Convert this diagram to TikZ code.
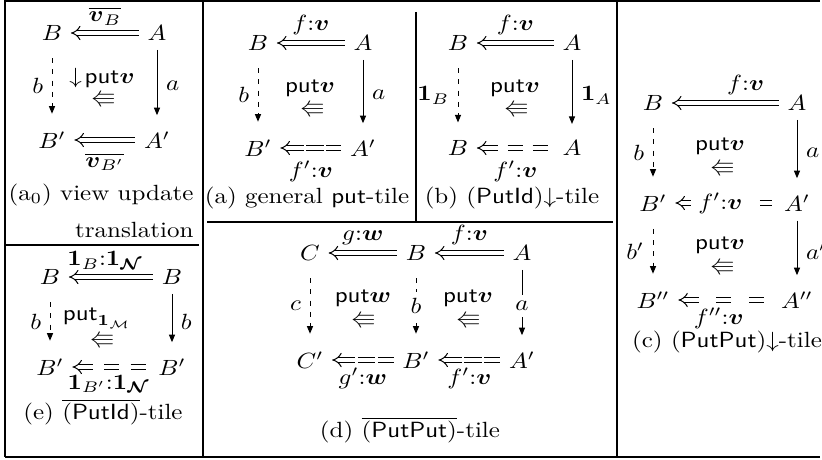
\documentclass[tikz,border=0pt]{standalone}
\usepackage{amsmath,amssymb}
\usepackage{tikz}
\usetikzlibrary{arrows.meta,positioning}
\tikzset{
  obj/.style={inner sep=.333em},
  lbl/.style={inner sep=3.4pt},
  cell/.style={inner sep=0pt},
  onarrow/.style={fill=white,inner sep=2.8pt},
  imp/.style={{Implies}-,double,double distance=1.6pt,line width=.4pt},
  impdash/.style={imp,dash pattern=#1},
  upd/.style={-{Triangle[length=3pt,width=2.4pt]},line width=.4pt,shorten <=.6pt,shorten >=3.5pt},
  prop/.style={upd,dash pattern=on 2pt off 2.5pt,shorten <=3.9pt,shorten >=4.1pt},
  rulel/.style={line width=.45pt}
}
\begin{document}
\begin{tikzpicture}[x=.4pt,y=-.4pt,every node/.style={yscale=.88}]
\useasboundingbox (0,0) rectangle (822,460);
\draw[rulel] (5,1) -- (820,1);
\draw[rulel] (5,457) -- (820,457);
\draw[rulel] (5,0) -- (5,457);
\draw[rulel] (203,0) -- (203,457);
\draw[rulel] (617,0) -- (617,457);
\draw[rulel] (5,245) -- (199,245);
\draw[rulel] (207,222) -- (613,222);
\draw[rulel] (416,12) -- (416,222);

\node[obj] (zB) at (52,33) {$B$};
\node[obj] (zA) at (157,33) {$A$};
\node[obj] (zBp) at (52,140) {$B'$};
\node[obj] (zAp) at (157,140) {$A'$};
\draw[imp] (zB) -- node[lbl,above] (zv) {$\overline{\boldsymbol{v}_B}$} (zA);
\draw[imp] (zBp) -- node[lbl,below=2pt] (zvp) {$\overline{\boldsymbol{v}_{B'}}$} (zAp);
\draw[prop] (zB) -- node[lbl,left] (zb) {$b$} (zBp);
\draw[upd] (zA) -- node[lbl,right] (za) {$a$} (zAp);
\node[cell] (zput) at (102,78) {$\downarrow\!\mathsf{put}\boldsymbol{v}$};
\node[cell] (zcell) at (103,99) {$\Lleftarrow$};
\node[align=right] (zcap) at (101,211) {(a$_0$) view update\\[5pt]translation};

\node[obj] (aB) at (258,43) {$B$};
\node[obj] (aA) at (363,43) {$A$};
\node[obj] (aBp) at (258,148) {$B'$};
\node[obj] (aAp) at (363,148) {$A'$};
\draw[imp] (aB) -- node[lbl,above] (af) {$f{:}\boldsymbol{v}$} (aA);
\draw[impdash={on 7pt off 1pt}] (aBp) -- node[lbl,below=2pt] (afp) {$f'{:}\boldsymbol{v}$} (aAp);
\draw[prop] (aB) -- node[lbl,left] (ab) {$b$} (aBp);
\draw[upd] (aA) -- node[lbl,right] (aa) {$a$} (aAp);
\node[cell] (aput) at (310,88) {$\mathsf{put}\boldsymbol{v}$};
\node[cell] (acell) at (312,109) {$\Lleftarrow$};
\node (acap) at (307,198) {(a) general \textsf{put}-tile};

\node[obj] (bB) at (458,43) {$B$};
\node[obj] (bA) at (572,43) {$A$};
\node[obj] (bBp) at (458,148) {$B$};
\node[obj] (bAp) at (572,148) {$A$};
\draw[imp] (bB) -- node[lbl,above] (bf) {$f{:}\boldsymbol{v}$} (bA);
\draw[impdash={on 6pt off 4pt}] (bBp) -- node[lbl,below=2pt] (bfp) {$f'{:}\boldsymbol{v}$} (bAp);
\draw[prop] (bB) -- node[lbl,left] (bb) {$\mathbf{1}_B$} (bBp);
\draw[upd] (bA) -- node[lbl,right] (ba) {$\mathbf{1}_A$} (bAp);
\node[cell] (bput) at (515,88) {$\mathsf{put}\boldsymbol{v}$};
\node[cell] (bcell) at (516,109) {$\Lleftarrow$};
\node (bcap) at (512,198) {(b) (\textsf{PutId})$\downarrow$-tile};

\node[obj] (cB) at (653,103) {$B$};
\node[obj] (cA) at (797,103) {$A$};
\node[obj] (cBp) at (653,203) {$B'$};
\node[obj] (cAp) at (797,203) {$A'$};
\node[obj] (cBpp) at (653,300) {$B''$};
\node[obj] (cApp) at (797,300) {$A''$};
\draw[imp] (cB) -- node[lbl,above,pos=.69] (cf) {$f{:}\boldsymbol{v}$} (cA);
\draw[impdash={on 5pt off 5.5pt}] (cBp) -- node[onarrow,pos=.45] (cfp) {$f'{:}\boldsymbol{v}$} (cAp);
\draw[impdash={on 6pt off 7pt}] (cBpp) -- node[lbl,below,pos=.43] (cfpp) {$f''{:}\boldsymbol{v}$} (cApp);
\draw[prop] (cB) -- node[lbl,left] (cb) {$b$} (cBp);
\draw[upd] (cA) -- node[lbl,right] (ca) {$a$} (cAp);
\draw[prop] (cBp) -- node[lbl,left] (cbp) {$b'$} (cBpp);
\draw[upd] (cAp) -- node[lbl,right] (cap) {$a'$} (cApp);
\node[cell] (cput) at (720,146) {$\mathsf{put}\boldsymbol{v}$};
\node[cell] (ccell) at (722,168) {$\Lleftarrow$};
\node[cell] (cputp) at (720,245) {$\mathsf{put}\boldsymbol{v}$};
\node[cell] (ccellp) at (722,267) {$\Lleftarrow$};
\node (ccap) at (727,342) {(c) (\textsf{PutPut})$\downarrow$-tile};

\node[obj] (dC) at (310,253) {$C$};
\node[obj] (dB) at (416,253) {$B$};
\node[obj] (dA) at (522,253) {$A$};
\node[obj] (dCp) at (310,360) {$C'$};
\node[obj] (dBp) at (416,360) {$B'$};
\node[obj] (dAp) at (522,360) {$A'$};
\draw[imp] (dC) -- node[lbl,above] (dg) {$g{:}\boldsymbol{w}$} (dB);
\draw[imp] (dB) -- node[lbl,above] (df) {$f{:}\boldsymbol{v}$} (dA);
\draw[impdash={on 7pt off 1pt}] (dCp) -- node[lbl,below] (dgp) {$g'{:}\boldsymbol{w}$} (dBp);
\draw[impdash={on 7pt off 1pt}] (dBp) -- node[lbl,below] (dfp) {$f'{:}\boldsymbol{v}$} (dAp);
\draw[prop] (dC) -- node[lbl,left] (dc) {$c$} (dCp);
\draw[prop] (dB) -- node[onarrow] (db) {$b$} (dBp);
\draw[upd] (dA) -- node[onarrow] (da) {$a$} (dAp);
\node[cell] (dputw) at (363,298) {$\mathsf{put}\boldsymbol{w}$};
\node[cell] (dcellw) at (363,320) {$\Lleftarrow$};
\node[cell] (dputv) at (468,298) {$\mathsf{put}\boldsymbol{v}$};
\node[cell] (dcellv) at (468,320) {$\Lleftarrow$};
\node (dcap) at (410,430) {(d) $\overline{\text{(\textsf{PutPut})}}$-tile};

\node[obj] (eB) at (50,277) {$B$};
\node[obj] (eBr) at (172,277) {$B$};
\node[obj] (eBp) at (50,367) {$B'$};
\node[obj] (eBpr) at (172,367) {$B'$};
\draw[imp] (eB) -- node[lbl,above,pos=.43] (ev) {$\mathbf{1}_B{:}\mathbf{1}_{\boldsymbol{\mathcal{N}}}$} (eBr);
\draw[impdash={on 6pt off 4.5pt}] (eBp) -- node[lbl,below,pos=.47] (evp) {$\mathbf{1}_{B'}{:}\mathbf{1}_{\boldsymbol{\mathcal{N}}}$} (eBpr);
\draw[prop] (eB) -- node[lbl,left] (eb) {$b$} (eBp);
\draw[upd] (eBr) -- node[lbl,right] (ebr) {$b$} (eBpr);
\node[cell] (eput) at (97,318) {$\mathsf{put}_{\mathbf{1}_{\mathcal{M}}}$};
\node[cell] (ecell) at (102,340) {$\Lleftarrow$};
\node (ecap) at (103,412) {(e) $\overline{\text{(\textsf{PutId})}}$-tile};
\end{tikzpicture}
\end{document}
